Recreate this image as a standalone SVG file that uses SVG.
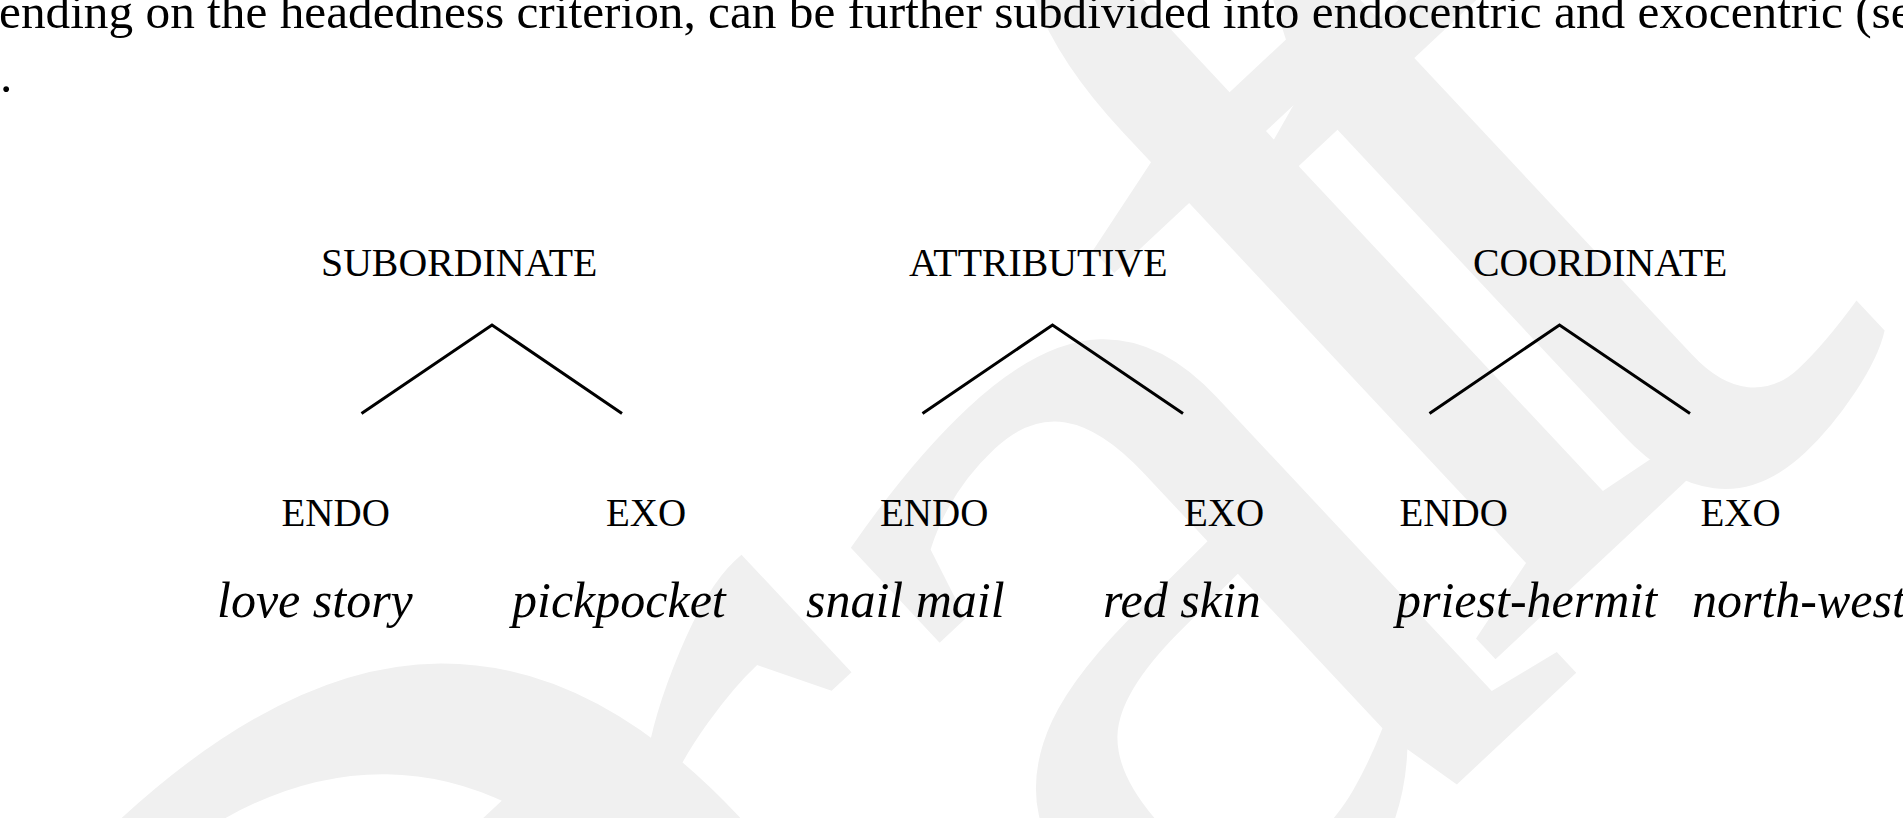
<svg xmlns="http://www.w3.org/2000/svg" width="1903" height="818" viewBox="0 0 1903 818">
<style>
.body{font-family:"Liberation Serif","Times New Roman",serif;font-size:49.3px;fill:#000}
.head{font-family:"Liberation Serif","Times New Roman",serif;font-size:39.8px;fill:#000}
.cat{font-family:"Liberation Serif","Times New Roman",serif;font-size:39px;fill:#000}
.ex{font-family:"Liberation Serif","Times New Roman",serif;font-size:50px;font-style:italic;fill:#000}
.wm{font-family:"Liberation Serif","Times New Roman",serif;font-size:1298px;fill:#f0f0f0}
.edge{fill:none;stroke:#000;stroke-width:3;stroke-linejoin:miter}
</style>
<rect width="1903" height="818" fill="#fff"/>
<g id="watermark">
<text class="wm" transform="translate(35,2026) rotate(-43.1)" dx="455 -292 -41 -122 -222" dy="27 -7 45 -65 48">Draft</text>
</g>
<g id="paragraph">
<text class="body" x="-1" y="27.5">ending on the headedness criterion, can be further subdivided into endocentric and exocentric (se</text>
<text class="body" x="0" y="92">.</text>
</g>
<g id="connectors">
<polyline class="edge" points="361.5,413.5 492,325 622,413.5"/>
<polyline class="edge" points="922.5,413.5 1052.5,325 1183,413.5"/>
<polyline class="edge" points="1429.5,413.5 1559.5,325 1690,413.5"/>
</g>
<g id="subordinate"><text class="head" x="321" y="276">SUBORDINATE</text></g>
<g id="attributive"><text class="head" x="909" y="276">ATTRIBUTIVE</text></g>
<g id="coordinate"><text class="head" x="1473" y="276">COORDINATE</text></g>
<g id="sub-endo"><text class="cat" x="281.5" y="526">ENDO</text><text class="ex" x="217" y="617">love story</text></g>
<g id="sub-exo"><text class="cat" x="606" y="526">EXO</text><text class="ex" x="512" y="617">pickpocket</text></g>
<g id="att-endo"><text class="cat" x="880" y="526">ENDO</text><text class="ex" x="806" y="617">snail mail</text></g>
<g id="att-exo"><text class="cat" x="1184" y="526">EXO</text><text class="ex" x="1103" y="617">red skin</text></g>
<g id="coo-endo"><text class="cat" x="1399.5" y="526">ENDO</text><text class="ex" x="1396" y="617">priest-hermit</text></g>
<g id="coo-exo"><text class="cat" x="1700.5" y="526">EXO</text><text class="ex" x="1692" y="617">north-west</text></g>
</svg>
